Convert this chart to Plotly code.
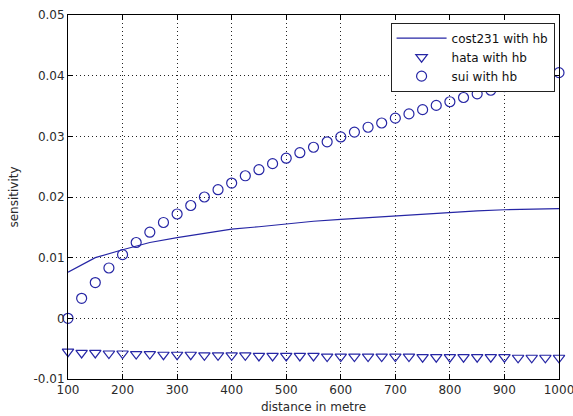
import plotly.graph_objects as go

# distance points (m)
distance = [100, 125, 150, 175, 200, 225, 250, 275, 300, 325, 350, 375, 400, 425, 450,
            475, 500, 525, 550, 575, 600, 625, 650, 675, 700, 725, 750, 775, 800, 825,
            850, 875, 900, 925, 950, 975, 1000]

sui_with_hb = [0.0000, 0.0033, 0.0059, 0.0083, 0.0105, 0.0125, 0.0142, 0.0158, 0.0172,
               0.0186, 0.0200, 0.0212, 0.0223, 0.0235, 0.0245, 0.0255, 0.0264, 0.0273,
               0.0282, 0.0291, 0.0299, 0.0307, 0.0315, 0.0322, 0.0330, 0.0337, 0.0344,
               0.0351, 0.0357, 0.0364, 0.0370, 0.0376, 0.0382, 0.0388, 0.0394, 0.0400,
               0.0405]

hata_with_hb = [-0.0055, -0.0057, -0.0057, -0.0058, -0.0058, -0.0059, -0.0059, -0.0060,
                -0.0060, -0.0060, -0.0061, -0.0061, -0.0061, -0.0061, -0.0062, -0.0062,
                -0.0062, -0.0062, -0.0062, -0.0063, -0.0063, -0.0063, -0.0063, -0.0063,
                -0.0063, -0.0063, -0.0064, -0.0064, -0.0064, -0.0064, -0.0064, -0.0064,
                -0.0064, -0.0065, -0.0065, -0.0065, -0.0065]

cost_distance = [100, 150, 200, 250, 300, 350, 400, 450, 500, 550, 600, 650, 700, 750,
                 800, 850, 900, 950, 1000]
cost231_with_hb = [0.0076, 0.0100, 0.0113, 0.0125, 0.0133, 0.0140, 0.0147, 0.0151,
                   0.0156, 0.0160, 0.0163, 0.0166, 0.0169, 0.0172, 0.0175, 0.0177,
                   0.0179, 0.0180, 0.0181]

x_ticks = [100, 200, 300, 400, 500, 600, 700, 800, 900, 1000]
y_ticks = [-0.01, 0, 0.01, 0.02, 0.03, 0.04, 0.05]
y_tick_labels = ["-0.01", "0", "0.01", "0.02", "0.03", "0.04", "0.05"]

BLUE = "rgb(38,38,165)"
FONT = "DejaVu Sans, sans-serif"
TXT = "#2a2a2a"

fig = go.Figure()
fig.add_trace(go.Scatter(x=cost_distance, y=cost231_with_hb, mode="lines",
                         name="cost231 with hb", line=dict(color=BLUE, width=1.2)))
fig.add_trace(go.Scatter(x=distance, y=hata_with_hb, mode="markers",
                         name="hata with hb", cliponaxis=False,
                         marker=dict(symbol="triangle-down-open", size=10, color=BLUE,
                                     line=dict(width=1.2, color=BLUE))))
fig.add_trace(go.Scatter(x=distance, y=sui_with_hb, mode="markers",
                         name="sui with hb", cliponaxis=False,
                         marker=dict(symbol="circle-open", size=10, color=BLUE,
                                     line=dict(width=1.2, color=BLUE))))

axis_common = dict(
    automargin=False,
    showline=True, linecolor="black", linewidth=1, mirror="ticks",
    ticks="inside", ticklen=5, tickcolor="black", tickwidth=1,
    showgrid=True, gridcolor="#222", gridwidth=1, griddash="1px,3px",
    zeroline=False, ticklabeloverflow="allow",
    tickfont=dict(family=FONT, size=12, color=TXT),
)

fig.update_layout(
    template="none",
    width=573, height=416,
    margin=dict(l=68, r=14, t=15, b=37, pad=0),
    paper_bgcolor="white", plot_bgcolor="white",
    font=dict(family=FONT, size=12, color=TXT),
    showlegend=True,
    legend=dict(x=0.991, y=0.979, xanchor="right", yanchor="top",
                bgcolor="white", bordercolor="#222", borderwidth=1,
                itemwidth=50,
                font=dict(family=FONT, size=12, color="#111"),
                tracegroupgap=0),
    xaxis=dict(range=[100, 1000], tickvals=x_ticks,
               title=dict(text="distance in metre", standoff=6,
                          font=dict(family=FONT, size=12, color=TXT)),
               **axis_common),
    yaxis=dict(range=[-0.01, 0.05], tickvals=y_ticks, ticktext=y_tick_labels,
               title=dict(text="sensitivity", standoff=12,
                          font=dict(family=FONT, size=12, color=TXT)),
               **axis_common),
)

fig.write_html(
    "out.html",
    config={"displayModeBar": False},
    post_script="document.body.style.margin='0';document.body.style.overflow='hidden';",
)
